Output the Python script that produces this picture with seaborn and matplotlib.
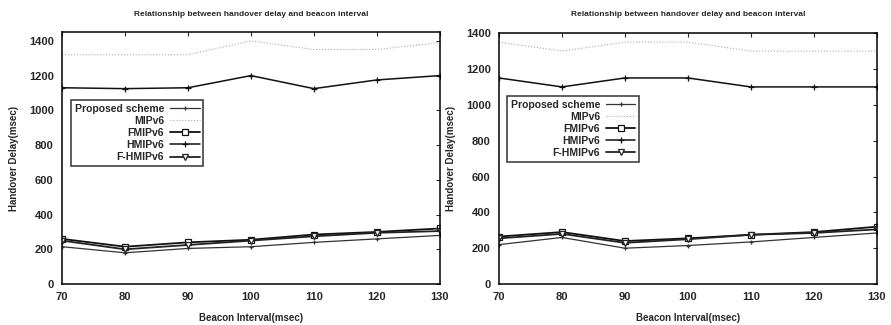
import matplotlib
matplotlib.use('Agg')
import matplotlib.pyplot as plt
import seaborn as sns
import pandas as pd

beacon = [70, 80, 90, 100, 110, 120, 130]

# left panel
left_proposed = [215, 180, 205, 215, 240, 260, 280]
left_mipv6 = [1320, 1320, 1320, 1400, 1350, 1350, 1390]
left_fmipv6 = [260, 215, 240, 255, 285, 300, 320]
left_hmipv6 = [1130, 1125, 1130, 1200, 1125, 1175, 1200]
left_fhmipv6 = [250, 200, 225, 250, 275, 295, 305]

# right panel
right_proposed = [220, 260, 200, 215, 235, 260, 285]
right_mipv6 = [1350, 1300, 1350, 1350, 1300, 1300, 1300]
right_fmipv6 = [265, 290, 240, 255, 275, 290, 320]
right_hmipv6 = [1150, 1100, 1150, 1150, 1100, 1100, 1100]
right_fhmipv6 = [255, 280, 230, 250, 275, 285, 305]

names = ['Proposed scheme', 'MIPv6', 'FMIPv6', 'HMIPv6', 'F-HMIPv6']
styles = {
    'Proposed scheme': dict(color='#333333', marker='+', ms=3, lw=0.9, ls='-'),
    'MIPv6': dict(color='#aaaaaa', marker=None, ms=0, lw=0.8, ls=':'),
    'FMIPv6': dict(color='#111111', marker='s', ms=5, lw=1.3, ls='-', mfc='white'),
    'HMIPv6': dict(color='#111111', marker='+', ms=4, lw=1.1, ls='-'),
    'F-HMIPv6': dict(color='#222222', marker='v', ms=4.5, lw=1.3, ls='-', mfc='white'),
}

sns.set_style('white')
plt.rcParams['font.family'] = ['Liberation Sans', 'DejaVu Sans']
plt.rcParams['font.weight'] = 'bold'

fig = plt.figure(figsize=(8.91, 3.25), dpi=100)
ax1 = fig.add_axes([0.0696, 0.126, 0.424, 0.775])
ax2 = fig.add_axes([0.560, 0.126, 0.424, 0.772])

panels = [
    (ax1, [left_proposed, left_mipv6, left_fmipv6, left_hmipv6, left_fhmipv6], (0.024, 0.73)),
    (ax2, [right_proposed, right_mipv6, right_fmipv6, right_hmipv6, right_fhmipv6], (0.021, 0.75)),
]

for ax, series, lpos in panels:
    for name, vals in zip(names, series):
        df = pd.DataFrame({'x': beacon, 'y': vals})
        st = styles[name]
        sns.lineplot(data=df, x='x', y='y', ax=ax, label=name, color=st['color'],
                     marker=st['marker'], markersize=st['ms'], linewidth=st['lw'],
                     linestyle=st['ls'], markerfacecolor=st.get('mfc', st['color']),
                     markeredgecolor=st['color'], markeredgewidth=0.9)
    ax.set_xlim(70, 130)
    ax.set_ylim(0, 1450 if ax is ax1 else 1400)
    ax.set_xticks(beacon)
    ax.set_yticks(range(0, 1401, 200))
    ax.tick_params(direction='in', top=True, right=True, length=3, width=0.8,
                   labelsize=8, pad=6)
    for lab in ax.get_xticklabels() + ax.get_yticklabels():
        lab.set_fontweight('bold')
    for sp in ax.spines.values():
        sp.set_linewidth(1.1)
        sp.set_color('black')
    ax.set_title('Relationship between handover delay and beacon interval',
                 fontsize=6, fontweight='bold', pad=12)
    ax.set_xlabel('Beacon Interval(msec)', fontsize=7, fontweight='bold', labelpad=8)
    ax.set_ylabel('Handover Delay(msec)', fontsize=7, fontweight='bold', labelpad=7)
    leg = ax.legend(loc='upper left', bbox_to_anchor=lpos, fontsize=7.5,
                    markerfirst=False, frameon=True, fancybox=False,
                    edgecolor='black', handlelength=2.8, borderpad=0.35,
                    labelspacing=0.2, handletextpad=0.6, borderaxespad=0)
    leg.get_frame().set_linewidth(1.1)
    for t in leg.get_texts():
        t.set_ha('right')
        t.set_fontweight('bold')
    leg._legend_box.align = 'right'

fig.savefig('out.png', dpi=100)
